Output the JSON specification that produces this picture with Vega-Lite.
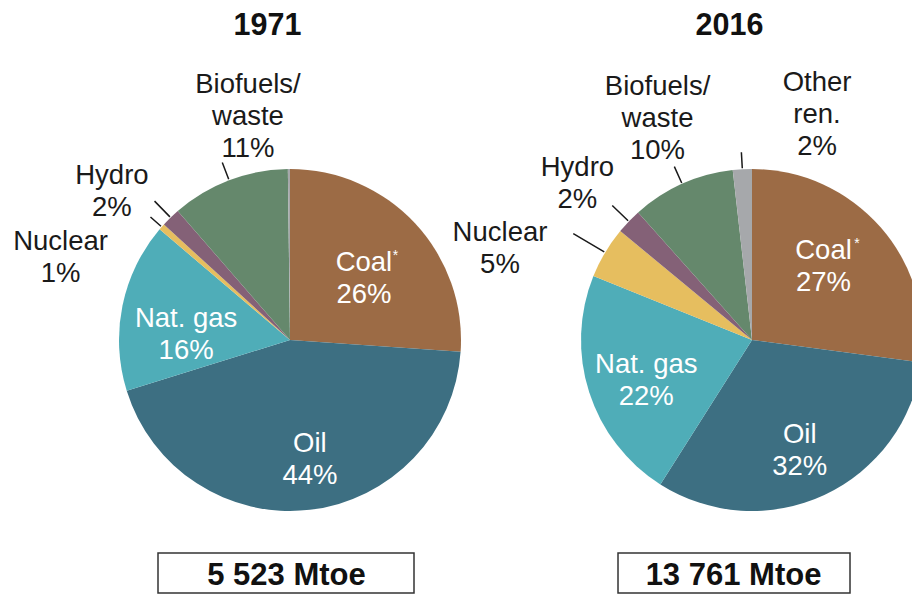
{
  "$schema": "https://vega.github.io/schema/vega-lite/v6.json",
  "width": 912,
  "height": 595,
  "autosize": {"type": "none"},
  "padding": 0,
  "background": "white",
  "config": {
    "view": {"stroke": null},
    "text": {"font": "Liberation Sans", "fontSize": 27.5, "lineHeight": 32, "lineBreak": "\n", "align": "center", "baseline": "middle"},
    "arc": {"stroke": null}
  },
  "datasets": {
    "shares": [
      {"year": 1971, "source": "Coal", "share": 26.1},
      {"year": 1971, "source": "Oil", "share": 44.1},
      {"year": 1971, "source": "Nat. gas", "share": 16.0},
      {"year": 1971, "source": "Nuclear", "share": 0.6},
      {"year": 1971, "source": "Hydro", "share": 1.8},
      {"year": 1971, "source": "Biofuels/waste", "share": 11.2},
      {"year": 1971, "source": "Other ren.", "share": 0.2},
      {"year": 2016, "source": "Coal", "share": 27.1},
      {"year": 2016, "source": "Oil", "share": 31.9},
      {"year": 2016, "source": "Nat. gas", "share": 22.1},
      {"year": 2016, "source": "Nuclear", "share": 4.9},
      {"year": 2016, "source": "Hydro", "share": 2.4},
      {"year": 2016, "source": "Biofuels/waste", "share": 9.8},
      {"year": 2016, "source": "Other ren.", "share": 1.8}
    ],
    "totals": [
      {"year": 1971, "total": 5523},
      {"year": 2016, "total": 13761}
    ]
  },
  "encoding": {
    "x": {"field": "year", "type": "quantitative", "scale": {"domain": [1942.753, 2031.584], "nice": false, "zero": false}, "axis": null},
    "y": {"datum": 0, "type": "quantitative", "scale": {"domain": [-0.75, 1], "nice": false, "zero": false}, "axis": null}
  },
  "layer": [
    {
      "data": {"name": "shares"},
      "transform": [
        {"window": [{"op": "row_number", "as": "rank"}]},
        {"stack": "share", "groupby": ["year"], "sort": [{"field": "rank", "order": "ascending"}], "as": ["s0", "s1"]},
        {"calculate": "(datum.s0 + datum.s1) / 2", "as": "mid"},
        {"calculate": "replace(replace(datum.source, '/', '/\\n'), 'Other ', 'Other\\n') + '\\n' + format(datum.share, '.0f') + '%'", "as": "label"}
      ],
      "layer": [
        {"transform": [{"filter": "datum.year == 1971 && datum.source == 'Coal'"}], "mark": {"type": "arc", "outerRadius": 171, "fill": "#9C6B45"}, "encoding": {"theta": {"field": "s0", "type": "quantitative", "scale": {"domain": [0, 100]}}, "theta2": {"field": "s1"}}},
        {"transform": [{"filter": "datum.year == 1971 && datum.source == 'Oil'"}], "mark": {"type": "arc", "outerRadius": 171, "fill": "#3D6F82"}, "encoding": {"theta": {"field": "s0", "type": "quantitative", "scale": {"domain": [0, 100]}}, "theta2": {"field": "s1"}}},
        {"transform": [{"filter": "datum.year == 1971 && datum.source == 'Nat. gas'"}], "mark": {"type": "arc", "outerRadius": 171, "fill": "#4FADB8"}, "encoding": {"theta": {"field": "s0", "type": "quantitative", "scale": {"domain": [0, 100]}}, "theta2": {"field": "s1"}}},
        {"transform": [{"filter": "datum.year == 1971 && datum.source == 'Nuclear'"}], "mark": {"type": "arc", "outerRadius": 171, "fill": "#E6BE5F"}, "encoding": {"theta": {"field": "s0", "type": "quantitative", "scale": {"domain": [0, 100]}}, "theta2": {"field": "s1"}}},
        {"transform": [{"filter": "datum.year == 1971 && datum.source == 'Hydro'"}], "mark": {"type": "arc", "outerRadius": 171, "fill": "#846177"}, "encoding": {"theta": {"field": "s0", "type": "quantitative", "scale": {"domain": [0, 100]}}, "theta2": {"field": "s1"}}},
        {"transform": [{"filter": "datum.year == 1971 && datum.source == 'Biofuels/waste'"}], "mark": {"type": "arc", "outerRadius": 171, "fill": "#65886C"}, "encoding": {"theta": {"field": "s0", "type": "quantitative", "scale": {"domain": [0, 100]}}, "theta2": {"field": "s1"}}},
        {"transform": [{"filter": "datum.year == 1971 && datum.source == 'Other ren.'"}], "mark": {"type": "arc", "outerRadius": 171, "fill": "#A6A8AB"}, "encoding": {"theta": {"field": "s0", "type": "quantitative", "scale": {"domain": [0, 100]}}, "theta2": {"field": "s1"}}},
        {"transform": [{"filter": "datum.year == 2016 && datum.source == 'Coal'"}], "mark": {"type": "arc", "outerRadius": 171, "fill": "#9C6B45"}, "encoding": {"theta": {"field": "s0", "type": "quantitative", "scale": {"domain": [0, 100]}}, "theta2": {"field": "s1"}}},
        {"transform": [{"filter": "datum.year == 2016 && datum.source == 'Oil'"}], "mark": {"type": "arc", "outerRadius": 171, "fill": "#3D6F82"}, "encoding": {"theta": {"field": "s0", "type": "quantitative", "scale": {"domain": [0, 100]}}, "theta2": {"field": "s1"}}},
        {"transform": [{"filter": "datum.year == 2016 && datum.source == 'Nat. gas'"}], "mark": {"type": "arc", "outerRadius": 171, "fill": "#4FADB8"}, "encoding": {"theta": {"field": "s0", "type": "quantitative", "scale": {"domain": [0, 100]}}, "theta2": {"field": "s1"}}},
        {"transform": [{"filter": "datum.year == 2016 && datum.source == 'Nuclear'"}], "mark": {"type": "arc", "outerRadius": 171, "fill": "#E6BE5F"}, "encoding": {"theta": {"field": "s0", "type": "quantitative", "scale": {"domain": [0, 100]}}, "theta2": {"field": "s1"}}},
        {"transform": [{"filter": "datum.year == 2016 && datum.source == 'Hydro'"}], "mark": {"type": "arc", "outerRadius": 171, "fill": "#846177"}, "encoding": {"theta": {"field": "s0", "type": "quantitative", "scale": {"domain": [0, 100]}}, "theta2": {"field": "s1"}}},
        {"transform": [{"filter": "datum.year == 2016 && datum.source == 'Biofuels/waste'"}], "mark": {"type": "arc", "outerRadius": 171, "fill": "#65886C"}, "encoding": {"theta": {"field": "s0", "type": "quantitative", "scale": {"domain": [0, 100]}}, "theta2": {"field": "s1"}}},
        {"transform": [{"filter": "datum.year == 2016 && datum.source == 'Other ren.'"}], "mark": {"type": "arc", "outerRadius": 171, "fill": "#A6A8AB"}, "encoding": {"theta": {"field": "s0", "type": "quantitative", "scale": {"domain": [0, 100]}}, "theta2": {"field": "s1"}}},

        {"transform": [{"filter": "datum.year == 1971 && datum.source == 'Biofuels/waste'"}], "mark": {"type": "arc", "innerRadius": 172, "outerRadius": 190, "fill": "transparent", "stroke": "#1a1a1a", "strokeWidth": 1.5}, "encoding": {"theta": {"field": "mid", "type": "quantitative", "scale": {"domain": [0, 100]}}, "theta2": {"field": "mid"}}},
        {"transform": [{"filter": "datum.year == 1971 && datum.source == 'Hydro'"}], "mark": {"type": "arc", "innerRadius": 172, "outerRadius": 194, "fill": "transparent", "stroke": "#1a1a1a", "strokeWidth": 1.5}, "encoding": {"theta": {"field": "mid", "type": "quantitative", "scale": {"domain": [0, 100]}}, "theta2": {"field": "mid"}}},
        {"transform": [{"filter": "datum.year == 1971 && datum.source == 'Nuclear'"}], "mark": {"type": "arc", "innerRadius": 172, "outerRadius": 186, "fill": "transparent", "stroke": "#1a1a1a", "strokeWidth": 1.5}, "encoding": {"theta": {"field": "mid", "type": "quantitative", "scale": {"domain": [0, 100]}}, "theta2": {"field": "mid"}}},
        {"transform": [{"filter": "datum.year == 2016 && datum.source == 'Biofuels/waste'"}], "mark": {"type": "arc", "innerRadius": 172, "outerRadius": 190, "fill": "transparent", "stroke": "#1a1a1a", "strokeWidth": 1.5}, "encoding": {"theta": {"field": "mid", "type": "quantitative", "scale": {"domain": [0, 100]}}, "theta2": {"field": "mid"}}},
        {"transform": [{"filter": "datum.year == 2016 && datum.source == 'Hydro'"}], "mark": {"type": "arc", "innerRadius": 172, "outerRadius": 194, "fill": "transparent", "stroke": "#1a1a1a", "strokeWidth": 1.5}, "encoding": {"theta": {"field": "mid", "type": "quantitative", "scale": {"domain": [0, 100]}}, "theta2": {"field": "mid"}}},
        {"transform": [{"filter": "datum.year == 2016 && datum.source == 'Nuclear'"}], "mark": {"type": "arc", "innerRadius": 172, "outerRadius": 208, "fill": "transparent", "stroke": "#1a1a1a", "strokeWidth": 1.5}, "encoding": {"theta": {"field": "mid", "type": "quantitative", "scale": {"domain": [0, 100]}}, "theta2": {"field": "mid"}}},
        {"transform": [{"filter": "datum.year == 2016 && datum.source == 'Other ren.'"}], "mark": {"type": "arc", "innerRadius": 172, "outerRadius": 188, "fill": "transparent", "stroke": "#1a1a1a", "strokeWidth": 1.5}, "encoding": {"theta": {"field": "mid", "type": "quantitative", "scale": {"domain": [0, 100]}}, "theta2": {"field": "mid"}}},

        {
          "transform": [{"filter": "datum.year == 1971 && datum.source == 'Coal'"}],
          "mark": {"type": "text", "radius": 97, "dx": 3, "dy": -11, "fill": "white"},
          "encoding": {"theta": {"field": "mid", "type": "quantitative", "stack": null, "scale": {"domain": [0, 100]}}, "text": {"field": "label"}}
        },
        {
          "transform": [{"filter": "datum.year == 1971 && datum.source == 'Coal'"}],
          "mark": {"type": "text", "radius": 97, "dx": 34.6, "dy": -17.5, "fill": "white", "fontSize": 14},
          "encoding": {"theta": {"field": "mid", "type": "quantitative", "stack": null, "scale": {"domain": [0, 100]}}, "text": {"value": "*"}}
        },
        {
          "transform": [{"filter": "datum.year == 2016 && datum.source == 'Coal'"}],
          "mark": {"type": "text", "radius": 100, "dx": -3.7, "dy": -22.7, "fill": "white"},
          "encoding": {"theta": {"field": "mid", "type": "quantitative", "stack": null, "scale": {"domain": [0, 100]}}, "text": {"field": "label"}}
        },
        {
          "transform": [{"filter": "datum.year == 2016 && datum.source == 'Coal'"}],
          "mark": {"type": "text", "radius": 100, "dx": 29.8, "dy": -30.3, "fill": "white", "fontSize": 14},
          "encoding": {"theta": {"field": "mid", "type": "quantitative", "stack": null, "scale": {"domain": [0, 100]}}, "text": {"value": "*"}}
        },
        {
          "transform": [{"filter": "datum.year == 1971 && datum.source == 'Oil'"}],
          "mark": {"type": "text", "radius": 120, "dx": 6, "dy": -15, "fill": "white"},
          "encoding": {"theta": {"field": "mid", "type": "quantitative", "stack": null, "scale": {"domain": [0, 100]}}, "text": {"field": "label"}}
        },
        {
          "transform": [{"filter": "datum.year == 2016 && datum.source == 'Oil'"}],
          "mark": {"type": "text", "radius": 120, "dx": -3, "dy": -14, "fill": "white"},
          "encoding": {"theta": {"field": "mid", "type": "quantitative", "stack": null, "scale": {"domain": [0, 100]}}, "text": {"field": "label"}}
        },
        {
          "transform": [{"filter": "datum.year == 1971 && datum.source == 'Nat. gas'"}],
          "mark": {"type": "text", "radius": 106, "dx": 0, "dy": 0, "fill": "white"},
          "encoding": {"theta": {"field": "mid", "type": "quantitative", "stack": null, "scale": {"domain": [0, 100]}}, "text": {"field": "label"}}
        },
        {
          "transform": [{"filter": "datum.year == 2016 && datum.source == 'Nat. gas'"}],
          "mark": {"type": "text", "radius": 110, "dx": -1, "dy": -9, "fill": "white"},
          "encoding": {"theta": {"field": "mid", "type": "quantitative", "stack": null, "scale": {"domain": [0, 100]}}, "text": {"field": "label"}}
        },
        {
          "transform": [{"filter": "datum.year == 1971 && datum.source == 'Biofuels/waste'"}],
          "mark": {"type": "text", "radius": 171, "dx": 18.9, "dy": -95.6, "fill": "#1a1a1a"},
          "encoding": {"theta": {"field": "mid", "type": "quantitative", "stack": null, "scale": {"domain": [0, 100]}}, "text": {"field": "label"}}
        },
        {
          "transform": [{"filter": "datum.year == 1971 && datum.source == 'Hydro'"}],
          "mark": {"type": "text", "radius": 171, "dx": -58.7, "dy": -41.9, "fill": "#1a1a1a"},
          "encoding": {"theta": {"field": "mid", "type": "quantitative", "stack": null, "scale": {"domain": [0, 100]}}, "text": {"field": "label"}}
        },
        {
          "transform": [{"filter": "datum.year == 1971 && datum.source == 'Nuclear'"}],
          "mark": {"type": "text", "radius": 171, "dx": -101.2, "dy": 14.7, "fill": "#1a1a1a"},
          "encoding": {"theta": {"field": "mid", "type": "quantitative", "stack": null, "scale": {"domain": [0, 100]}}, "text": {"field": "label"}}
        },
        {
          "transform": [{"filter": "datum.year == 2016 && datum.source == 'Biofuels/waste'"}],
          "mark": {"type": "text", "radius": 171, "dx": -24.6, "dy": -97.3, "fill": "#1a1a1a"},
          "encoding": {"theta": {"field": "mid", "type": "quantitative", "stack": null, "scale": {"domain": [0, 100]}}, "text": {"field": "label"}}
        },
        {
          "transform": [{"filter": "datum.year == 2016 && datum.source == 'Hydro'"}],
          "mark": {"type": "text", "radius": 171, "dx": -51.4, "dy": -53.3, "fill": "#1a1a1a"},
          "encoding": {"theta": {"field": "mid", "type": "quantitative", "stack": null, "scale": {"domain": [0, 100]}}, "text": {"field": "label"}}
        },
        {
          "transform": [{"filter": "datum.year == 2016 && datum.source == 'Nuclear'"}],
          "mark": {"type": "text", "radius": 171, "dx": -105.1, "dy": -19.5, "fill": "#1a1a1a"},
          "encoding": {"theta": {"field": "mid", "type": "quantitative", "stack": null, "scale": {"domain": [0, 100]}}, "text": {"field": "label"}}
        },
        {
          "transform": [{"filter": "datum.year == 2016 && datum.source == 'Other ren.'"}],
          "mark": {"type": "text", "radius": 171, "dx": 74.7, "dy": -86.3, "fill": "#1a1a1a"},
          "encoding": {"theta": {"field": "mid", "type": "quantitative", "stack": null, "scale": {"domain": [0, 100]}}, "text": {"field": "label"}}
        }
      ]
    },
    {
      "data": {"name": "totals"},
      "transform": [
        {"calculate": "replace(format(datum.total, ','), ',', ' ') + ' Mtoe'", "as": "txt"}
      ],
      "layer": [
        {
          "mark": {"type": "text", "dx": -22.5, "dy": -314, "fontSize": 30.5, "fontWeight": "bold", "fill": "#111"},
          "encoding": {"text": {"field": "year", "type": "quantitative", "format": "d"}}
        },
        {
          "transform": [{"filter": "datum.year == 1971"}],
          "mark": {"type": "point", "shape": "M-128,-20H128V20H-128Z", "size": 4, "filled": false, "opacity": 1, "stroke": "#333", "strokeWidth": 1.5, "xOffset": -4, "yOffset": 233}
        },
        {
          "transform": [{"filter": "datum.year == 2016"}],
          "mark": {"type": "point", "shape": "M-116,-20H116V20H-116Z", "size": 4, "filled": false, "opacity": 1, "stroke": "#333", "strokeWidth": 1.5, "xOffset": -18, "yOffset": 233}
        },
        {
          "transform": [{"filter": "datum.year == 1971"}],
          "mark": {"type": "text", "dx": -3.5, "dy": 235.7, "fontSize": 31, "fontWeight": "bold", "fill": "#111"},
          "encoding": {"text": {"field": "txt"}}
        },
        {
          "transform": [{"filter": "datum.year == 2016"}],
          "mark": {"type": "text", "dx": -18.5, "dy": 235.7, "fontSize": 31, "fontWeight": "bold", "fill": "#111"},
          "encoding": {"text": {"field": "txt"}}
        }
      ]
    }
  ]
}
